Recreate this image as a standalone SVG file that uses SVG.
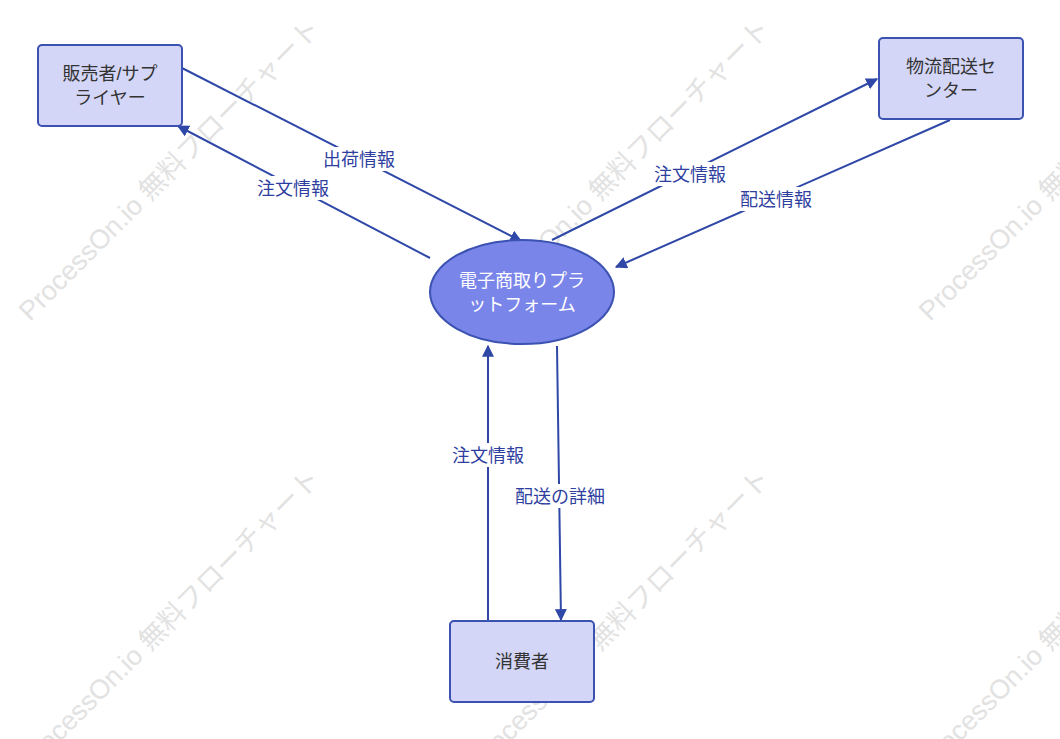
<svg xmlns="http://www.w3.org/2000/svg" width="1060" height="739" viewBox="0 0 1060 739">
<style>
.wm{font-family:"Liberation Sans","Noto Sans CJK JP",sans-serif;font-size:27px;fill:#e2e2e2}
.box{fill:#d3d6f7;stroke:#3b52b0;stroke-width:2}
.nt{font-family:"Liberation Sans","Noto Sans CJK JP",sans-serif;font-size:18px;fill:#333;text-anchor:middle}
.e{stroke:#2f48a8;stroke-width:2;fill:none;marker-end:url(#a)}
.lb{fill:#fff}
.lt{font-family:"Liberation Sans","Noto Sans CJK JP",sans-serif;font-size:18px;fill:#2f3f9f;text-anchor:middle}
</style>
<defs>
<marker id="a" viewBox="0 0 10 10" refX="9" refY="5" markerWidth="6" markerHeight="6" orient="auto" markerUnits="strokeWidth"><path d="M0,0L10,5L0,10z" fill="#2f48a8"/></marker>
</defs>
<rect width="1060" height="739" fill="#fff"/>
<g id="watermarks">
<text class="wm" transform="translate(30,322) rotate(-45)">ProcessOn.io 無料フローチャート</text>
<text class="wm" transform="translate(480,322) rotate(-45)">ProcessOn.io 無料フローチャート</text>
<text class="wm" transform="translate(930,322) rotate(-45)">ProcessOn.io 無料フローチャート</text>
<text class="wm" transform="translate(30,772) rotate(-45)">ProcessOn.io 無料フローチャート</text>
<text class="wm" transform="translate(480,772) rotate(-45)">ProcessOn.io 無料フローチャート</text>
<text class="wm" transform="translate(930,772) rotate(-45)">ProcessOn.io 無料フローチャート</text>
</g>
<g id="connectors">
<path class="e" d="M182,68L521,241"/>
<path class="e" d="M430,258L178,126"/>
<path class="e" d="M552,240L877,79"/>
<path class="e" d="M950,120L616,267"/>
<path class="e" d="M488,620L488,346"/>
<path class="e" d="M557,346L561,620"/>
<rect class="lb" x="318" y="147" width="82" height="24"/><text class="lt" x="359" y="166">出荷情報</text>
<rect class="lb" x="252" y="176" width="82" height="24"/><text class="lt" x="293" y="195">注文情報</text>
<rect class="lb" x="649" y="162" width="82" height="24"/><text class="lt" x="690" y="181">注文情報</text>
<rect class="lb" x="735" y="187" width="82" height="24"/><text class="lt" x="776" y="206">配送情報</text>
<rect class="lb" x="447" y="443" width="82" height="24"/><text class="lt" x="488" y="462">注文情報</text>
<rect class="lb" x="510" y="484" width="100" height="24"/><text class="lt" x="560" y="503">配送の詳細</text>
</g>
<g id="seller"><rect class="box" x="38" y="45" width="144" height="81" rx="4"/><text class="nt" x="110" y="80">販売者/サプ</text><text class="nt" x="110" y="104">ライヤー</text></g>
<g id="logistics"><rect class="box" x="879" y="38" width="144" height="81" rx="4"/><text class="nt" x="951" y="73">物流配送セ</text><text class="nt" x="951" y="97">ンター</text></g>
<g id="consumer"><rect class="box" x="450" y="621" width="144" height="81" rx="4"/><text class="nt" x="522" y="668">消費者</text></g>
<g id="platform"><ellipse cx="522" cy="292" rx="92" ry="52" fill="#7a85ea" stroke="#3b52b0" stroke-width="2"/><text class="nt" x="522" y="287" style="fill:#fff">電子商取りプラ</text><text class="nt" x="522" y="311" style="fill:#fff">ットフォーム</text></g>
</svg>
